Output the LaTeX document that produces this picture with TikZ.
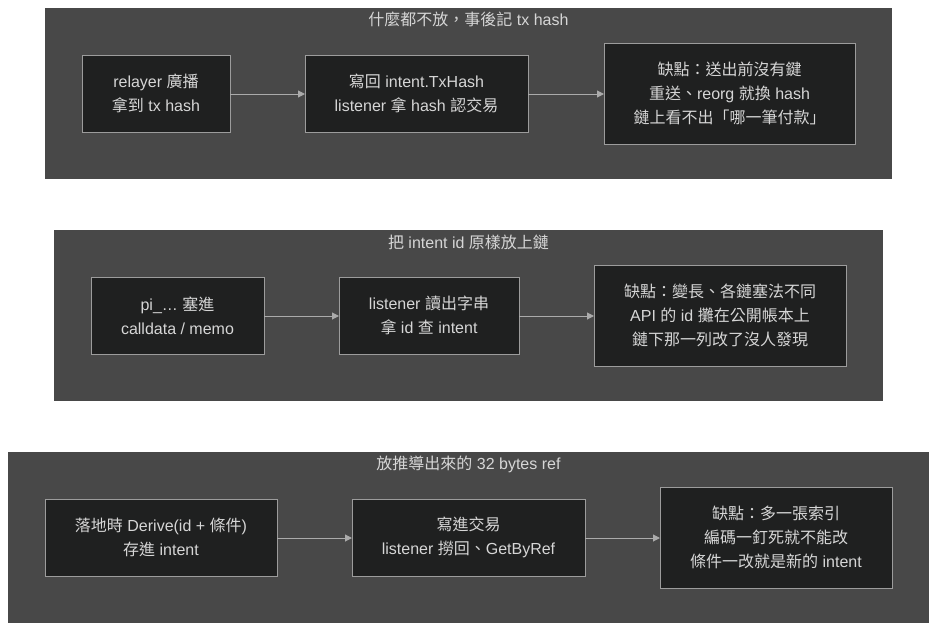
\documentclass[tikz,border=0pt]{standalone}
\usepackage{fontspec}
\setmainfont{Liberation Sans}
\newfontfamily\cjk{Noto Sans CJK TC}
\usetikzlibrary{arrows.meta}
\definecolor{panelbg}{HTML}{484848}
\definecolor{boxbg}{HTML}{1F2020}
\definecolor{boxline}{HTML}{9C9C9C}
\definecolor{txt}{HTML}{D6D6D6}
\definecolor{arr}{HTML}{ABABAB}
\newcommand{\C}[1]{{\cjk #1}}
\tikzset{
  panel/.style={fill=panelbg, draw=none},
  stepbox/.style={fill=boxbg, draw=boxline, line width=1pt},
  lbl/.style={text=txt, align=center, font=\fontsize{16}{24}\selectfont},
  ttl/.style={text=txt, font=\fontsize{16}{20}\selectfont},
  conn/.style={draw=arr, line width=1pt, -{Triangle[length=7pt,width=7pt]}}
}
\begin{document}
\begin{tikzpicture}[x=1pt,y=-1pt]
\useasboundingbox (0,0) rectangle (938,632);
% panel 1
\fill[panel] (45,8) rectangle (892,179);
\node[ttl] (t1) at (468.5,19) {\C{什麼都不放，事後記} tx hash};
\draw[stepbox] (82,55) rectangle (230,132);
\node[lbl] (a1) at (156,93.5) {relayer \C{廣播}\\\C{拿到} tx hash};
\draw[stepbox] (305,55) rectangle (528,132);
\node[lbl] (a2) at (416.5,93.5) {\C{寫回} intent.TxHash\\listener \C{拿} hash \C{認交易}};
\draw[stepbox] (604,43) rectangle (855,144);
\node[lbl] (a3) at (729.5,93.5) {\C{缺點：送出前沒有鍵}\\\C{重送、}reorg \C{就換} hash\\\C{鏈上看不出「哪一筆付款」}};
\coordinate (a1e) at (230,94);
\coordinate (a2w) at (305,94);
\coordinate (a2e) at (528,94);
\coordinate (a3w) at (604,94);
\draw[conn] (a1e) -- (a2w);
\draw[conn] (a2e) -- (a3w);
% panel 2
\fill[panel] (54,230) rectangle (883,401);
\node[ttl] (t2) at (468.5,242) {\C{把} intent id \C{原樣放上鏈}};
\draw[stepbox] (91,277) rectangle (264,354);
\node[lbl] (b1) at (177.5,315.5) {pi\_… \C{塞進}\\calldata / memo};
\draw[stepbox] (339,277) rectangle (519,354);
\node[lbl] (b2) at (429,315.5) {listener \C{讀出字串}\\\C{拿} id \C{查} intent};
\draw[stepbox] (594,265) rectangle (846,366);
\node[lbl] (b3) at (720,315.5) {\C{缺點：變長、各鏈塞法不同}\\API \C{的} id \C{攤在公開帳本上}\\\C{鏈下那一列改了沒人發現}};
\coordinate (b1e) at (264,316);
\coordinate (b2w) at (339,316);
\coordinate (b2e) at (519,316);
\coordinate (b3w) at (594,316);
\draw[conn] (b1e) -- (b2w);
\draw[conn] (b2e) -- (b3w);
% panel 3
\fill[panel] (8,452) rectangle (929,623);
\node[ttl] (t3) at (468.5,464) {\C{放推導出來的} 32 bytes ref};
\draw[stepbox] (45,499) rectangle (277,576);
\node[lbl] (c1) at (161,537.5) {\C{落地時} Derive(id + \C{條件})\\\C{存進} intent};
\draw[stepbox] (352,499) rectangle (585,576);
\node[lbl] (c2) at (468.5,537.5) {\C{寫進交易}\\listener \C{撈回、}GetByRef};
\draw[stepbox] (660,487) rectangle (892,588);
\node[lbl] (c3) at (776,537.5) {\C{缺點：多一張索引}\\\C{編碼一釘死就不能改}\\\C{條件一改就是新的} intent};
\coordinate (c1e) at (277,538);
\coordinate (c2w) at (352,538);
\coordinate (c2e) at (585,538);
\coordinate (c3w) at (660,538);
\draw[conn] (c1e) -- (c2w);
\draw[conn] (c2e) -- (c3w);
\end{tikzpicture}
\end{document}
